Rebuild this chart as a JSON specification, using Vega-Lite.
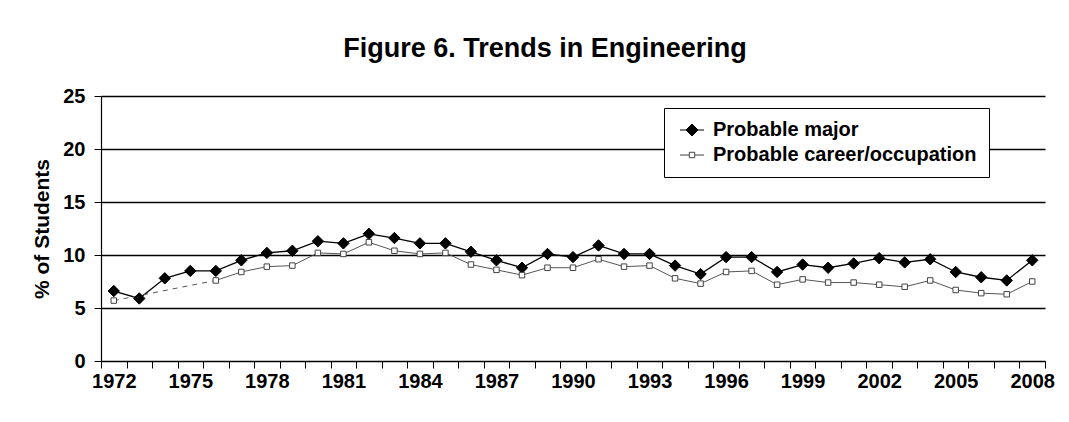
{
  "$schema": "https://vega.github.io/schema/vega-lite/v6.json",
  "width": 944,
  "height": 265,
  "autosize": {"type": "none"},
  "padding": {"left": 101, "top": 96, "right": 24, "bottom": 61},
  "background": "white",
  "config": {
    "view": {"stroke": null},
    "font": "Liberation Sans",
    "axis": {"labelFont": "Liberation Sans", "titleFont": "Liberation Sans", "labelColor": "black", "titleColor": "black", "domainColor": "black", "tickColor": "black"}
  },
  "title": {
    "text": "Figure 6. Trends in Engineering",
    "font": "Liberation Sans",
    "fontSize": 27,
    "fontWeight": "bold",
    "color": "black",
    "anchor": "middle",
    "frame": "group",
    "baseline": "alphabetic",
    "offset": 2,
    "dx": -28
  },
  "data": {
    "values": [
      {"year": 1972, "series": "Probable major", "value": 6.6},
      {"year": 1973, "series": "Probable major", "value": 5.9},
      {"year": 1974, "series": "Probable major", "value": 7.8},
      {"year": 1975, "series": "Probable major", "value": 8.5},
      {"year": 1976, "series": "Probable major", "value": 8.5},
      {"year": 1977, "series": "Probable major", "value": 9.5},
      {"year": 1978, "series": "Probable major", "value": 10.2},
      {"year": 1979, "series": "Probable major", "value": 10.4},
      {"year": 1980, "series": "Probable major", "value": 11.3},
      {"year": 1981, "series": "Probable major", "value": 11.1},
      {"year": 1982, "series": "Probable major", "value": 12.0},
      {"year": 1983, "series": "Probable major", "value": 11.6},
      {"year": 1984, "series": "Probable major", "value": 11.1},
      {"year": 1985, "series": "Probable major", "value": 11.1},
      {"year": 1986, "series": "Probable major", "value": 10.3},
      {"year": 1987, "series": "Probable major", "value": 9.5},
      {"year": 1988, "series": "Probable major", "value": 8.8},
      {"year": 1989, "series": "Probable major", "value": 10.1},
      {"year": 1990, "series": "Probable major", "value": 9.8},
      {"year": 1991, "series": "Probable major", "value": 10.9},
      {"year": 1992, "series": "Probable major", "value": 10.1},
      {"year": 1993, "series": "Probable major", "value": 10.1},
      {"year": 1994, "series": "Probable major", "value": 9.0},
      {"year": 1995, "series": "Probable major", "value": 8.2},
      {"year": 1996, "series": "Probable major", "value": 9.8},
      {"year": 1997, "series": "Probable major", "value": 9.8},
      {"year": 1998, "series": "Probable major", "value": 8.4},
      {"year": 1999, "series": "Probable major", "value": 9.1},
      {"year": 2000, "series": "Probable major", "value": 8.8},
      {"year": 2001, "series": "Probable major", "value": 9.2},
      {"year": 2002, "series": "Probable major", "value": 9.7},
      {"year": 2003, "series": "Probable major", "value": 9.3},
      {"year": 2004, "series": "Probable major", "value": 9.6},
      {"year": 2005, "series": "Probable major", "value": 8.4},
      {"year": 2006, "series": "Probable major", "value": 7.9},
      {"year": 2007, "series": "Probable major", "value": 7.6},
      {"year": 2008, "series": "Probable major", "value": 9.5},
      {"year": 1972, "series": "Probable career/occupation", "value": 5.7},
      {"year": 1976, "series": "Probable career/occupation", "value": 7.6},
      {"year": 1977, "series": "Probable career/occupation", "value": 8.4},
      {"year": 1978, "series": "Probable career/occupation", "value": 8.9},
      {"year": 1979, "series": "Probable career/occupation", "value": 9.0},
      {"year": 1980, "series": "Probable career/occupation", "value": 10.2},
      {"year": 1981, "series": "Probable career/occupation", "value": 10.1},
      {"year": 1982, "series": "Probable career/occupation", "value": 11.2},
      {"year": 1983, "series": "Probable career/occupation", "value": 10.4},
      {"year": 1984, "series": "Probable career/occupation", "value": 10.1},
      {"year": 1985, "series": "Probable career/occupation", "value": 10.2},
      {"year": 1986, "series": "Probable career/occupation", "value": 9.1},
      {"year": 1987, "series": "Probable career/occupation", "value": 8.6},
      {"year": 1988, "series": "Probable career/occupation", "value": 8.1},
      {"year": 1989, "series": "Probable career/occupation", "value": 8.8},
      {"year": 1990, "series": "Probable career/occupation", "value": 8.8},
      {"year": 1991, "series": "Probable career/occupation", "value": 9.6},
      {"year": 1992, "series": "Probable career/occupation", "value": 8.9},
      {"year": 1993, "series": "Probable career/occupation", "value": 9.0},
      {"year": 1994, "series": "Probable career/occupation", "value": 7.8},
      {"year": 1995, "series": "Probable career/occupation", "value": 7.3},
      {"year": 1996, "series": "Probable career/occupation", "value": 8.4},
      {"year": 1997, "series": "Probable career/occupation", "value": 8.5},
      {"year": 1998, "series": "Probable career/occupation", "value": 7.2},
      {"year": 1999, "series": "Probable career/occupation", "value": 7.7},
      {"year": 2000, "series": "Probable career/occupation", "value": 7.4},
      {"year": 2001, "series": "Probable career/occupation", "value": 7.4},
      {"year": 2002, "series": "Probable career/occupation", "value": 7.2},
      {"year": 2003, "series": "Probable career/occupation", "value": 7.0},
      {"year": 2004, "series": "Probable career/occupation", "value": 7.6},
      {"year": 2005, "series": "Probable career/occupation", "value": 6.7},
      {"year": 2006, "series": "Probable career/occupation", "value": 6.4},
      {"year": 2007, "series": "Probable career/occupation", "value": 6.3},
      {"year": 2008, "series": "Probable career/occupation", "value": 7.5}
    ]
  },
  "resolve": {
    "axis": {"x": "independent"},
    "scale": {"shape": "independent", "fill": "independent", "stroke": "independent"},
    "legend": {"shape": "independent", "fill": "independent", "stroke": "independent"}
  },
  "layer": [
    {
      "transform": [{"filter": "datum.series === 'Probable major'"}],
      "mark": {"type": "line", "color": "black", "strokeWidth": 1.3},
      "encoding": {
        "x": {
          "field": "year", "type": "quantitative",
          "scale": {"domain": [1971.5, 2008.5], "nice": false, "zero": false},
          "axis": {
            "orient": "bottom",
            "values": [1971.5, 1972.5, 1973.5, 1974.5, 1975.5, 1976.5, 1977.5, 1978.5, 1979.5, 1980.5, 1981.5, 1982.5, 1983.5, 1984.5, 1985.5, 1986.5, 1987.5, 1988.5, 1989.5, 1990.5, 1991.5, 1992.5, 1993.5, 1994.5, 1995.5, 1996.5, 1997.5, 1998.5, 1999.5, 2000.5, 2001.5, 2002.5, 2003.5, 2004.5, 2005.5, 2006.5, 2007.5, 2008.5],
            "labels": false, "title": null, "grid": false,
            "tickSize": 7, "tickWidth": 1, "domainWidth": 1.2, "domainColor": "black"
          }
        },
        "y": {
          "field": "value", "type": "quantitative",
          "scale": {"domain": [0, 25], "nice": false},
          "axis": {
            "values": [0, 5, 10, 15, 20, 25],
            "title": "% of Students",
            "titleFontSize": 21, "titleFontWeight": "bold", "titlePadding": 10,
            "labelFontSize": 20, "labelFontWeight": "bold", "labelPadding": 9,
            "tickSize": 7, "domainWidth": 1.2,
            "grid": true, "gridColor": "black", "gridWidth": 1.5, "gridOpacity": 1
          }
        }
      }
    },
    {
      "transform": [{"filter": "datum.series === 'Probable career/occupation' && datum.year >= 1976"}],
      "mark": {"type": "line", "color": "#555555", "strokeWidth": 1},
      "encoding": {
        "x": {
          "field": "year", "type": "quantitative",
          "axis": {
            "orient": "bottom",
            "values": [1972, 1975, 1978, 1981, 1984, 1987, 1990, 1993, 1996, 1999, 2002, 2005, 2008],
            "format": "d",
            "ticks": false, "domain": false, "grid": false, "title": null,
            "labelFontSize": 20, "labelFontWeight": "bold", "labelPadding": 10,
            "labelFlush": false, "labelOverlap": false
          }
        },
        "y": {"field": "value", "type": "quantitative"}
      }
    },
    {
      "transform": [{"filter": "datum.series === 'Probable career/occupation' && datum.year <= 1976"}],
      "mark": {"type": "line", "color": "#555555", "strokeWidth": 1, "strokeDash": [5, 5]},
      "encoding": {
        "x": {"field": "year", "type": "quantitative", "axis": null},
        "y": {"field": "value", "type": "quantitative"}
      }
    },
    {
      "mark": {"type": "point", "filled": false, "opacity": 1, "strokeWidth": 1},
      "encoding": {
        "x": {"field": "year", "type": "quantitative", "axis": null},
        "y": {"field": "value", "type": "quantitative"},
        "shape": {
          "field": "series", "type": "nominal",
          "scale": {"domain": ["Probable major", "Probable career/occupation"], "range": ["diamond", "square"]},
          "legend": null
        },
        "fill": {
          "field": "series", "type": "nominal",
          "scale": {"domain": ["Probable major", "Probable career/occupation"], "range": ["black", "white"]},
          "legend": null
        },
        "stroke": {
          "field": "series", "type": "nominal",
          "scale": {"domain": ["Probable major", "Probable career/occupation"], "range": ["black", "#444444"]},
          "legend": null
        },
        "size": {
          "field": "series", "type": "nominal",
          "scale": {"domain": ["Probable major", "Probable career/occupation"], "range": [130, 30]},
          "legend": null
        }
      }
    },
    {
      "transform": [{"filter": "false"}],
      "mark": {"type": "point", "filled": false, "opacity": 1, "strokeWidth": 1},
      "encoding": {
        "x": {"field": "year", "type": "quantitative", "axis": null},
        "y": {"field": "value", "type": "quantitative"},
        "shape": {
          "field": "series", "type": "nominal",
          "scale": {"domain": ["Probable major", "Probable career/occupation"], "range": ["M-2,0L2,0M0,-1L1,0L0,1L-1,0Z", "M-2,0H-0.45M0.45,0H2M-0.45,-0.45H0.45V0.45H-0.45Z"]},
          "legend": {
            "orient": "none", "legendX": 563, "legendY": 12,
            "title": null, "labelFontSize": 20, "labelFontWeight": "bold", "labelFont": "Liberation Sans",
            "labelColor": "black", "strokeColor": "black", "fillColor": "white", "padding": 12,
            "rowPadding": 5, "labelOffset": 11, "symbolStrokeWidth": 1, "symbolSize": 144, "labelLimit": 400,
            "symbolOffset": 6
          }
        },
        "fill": {
          "field": "series", "type": "nominal",
          "scale": {"domain": ["Probable major", "Probable career/occupation"], "range": ["black", "white"]}
        },
        "stroke": {
          "field": "series", "type": "nominal",
          "scale": {"domain": ["Probable major", "Probable career/occupation"], "range": ["black", "#444444"]}
        }
      }
    }
  ]
}
